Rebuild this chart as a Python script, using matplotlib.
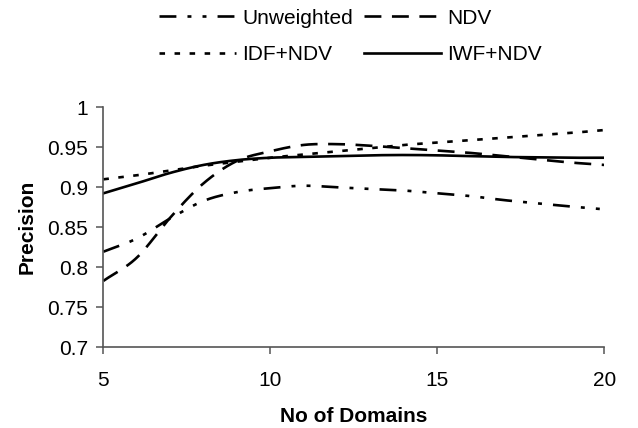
import numpy as np
import matplotlib
matplotlib.use('Agg')
import matplotlib.pyplot as plt

plt.rcParams['font.family'] = ['Liberation Sans', 'DejaVu Sans']

# No of Domains
domains = [5, 6, 7, 8, 9, 10, 11, 12, 13, 14, 15, 16, 17, 18, 19, 20]

unweighted = [0.8195, 0.836, 0.861, 0.883, 0.894, 0.899, 0.902, 0.900, 0.898, 0.896,
              0.8925, 0.889, 0.884, 0.880, 0.876, 0.8725]
ndv = [0.783, 0.812, 0.862, 0.905, 0.933, 0.945, 0.953, 0.954, 0.952, 0.949,
       0.946, 0.943, 0.939, 0.935, 0.931, 0.928]
idf_ndv = [0.910, 0.915, 0.921, 0.927, 0.932, 0.937, 0.941, 0.945, 0.949, 0.953,
           0.956, 0.959, 0.962, 0.965, 0.968, 0.9716]
iwf_ndv = [0.8925, 0.905, 0.918, 0.928, 0.934, 0.937, 0.938, 0.939, 0.940, 0.9404,
           0.940, 0.939, 0.938, 0.9375, 0.937, 0.937]


def smooth(x, y, n=20):
    # catmull-rom, like excel's smoothed line
    x = np.asarray(x, float)
    y = np.asarray(y, float)
    px = np.concatenate([[2 * x[0] - x[1]], x, [2 * x[-1] - x[-2]]])
    py = np.concatenate([[2 * y[0] - y[1]], y, [2 * y[-1] - y[-2]]])
    xs, ys = [], []
    t = np.linspace(0, 1, n, endpoint=False)
    for i in range(1, len(px) - 2):
        for p, out in ((px, xs), (py, ys)):
            p0, p1, p2, p3 = p[i - 1], p[i], p[i + 1], p[i + 2]
            out.extend(0.5 * (2 * p1 + (-p0 + p2) * t + (2 * p0 - 5 * p1 + 4 * p2 - p3) * t ** 2
                              + (-p0 + 3 * p1 - 3 * p2 + p3) * t ** 3))
    xs.append(x[-1])
    ys.append(y[-1])
    return xs, ys


fig = plt.figure(figsize=(6.38, 4.28), dpi=100)
ax = fig.add_axes([0.162, 0.1886, 0.785, 0.5606])

lw = 1.9
l1, = ax.plot(*smooth(domains, unweighted), color='black', lw=lw, dashes=(6.4, 4.2, 1.5, 4.2, 1.5, 4.2), label='Unweighted')
l2, = ax.plot(*smooth(domains, ndv), color='black', lw=lw, dashes=(6.4, 4), label='NDV')
l3, = ax.plot(*smooth(domains, idf_ndv), color='black', lw=lw, dashes=(2.1, 3.6), label='IDF+NDV')
l4, = ax.plot(*smooth(domains, iwf_ndv), color='black', lw=lw, label='IWF+NDV')

ax.set_xlim(5, 20)
ax.set_ylim(0.7, 1.0)
ax.set_xticks([5, 10, 15, 20])
ax.set_yticks([0.7, 0.75, 0.8, 0.85, 0.9, 0.95, 1.0])
ax.set_yticklabels(['0.7', '0.75', '0.8', '0.85', '0.9', '0.95', '1'])
ax.spines['top'].set_visible(False)
ax.spines['right'].set_visible(False)
for s in ('left', 'bottom'):
    ax.spines[s].set_color('#555555')
    ax.spines[s].set_linewidth(1.2)
ax.tick_params(direction='out', length=5, width=1.1, color='#555555', labelsize=15)
ax.tick_params(axis='x', pad=12)
ax.tick_params(axis='y', pad=6)

ax.set_xlabel('No of Domains', fontsize=15, fontweight='bold', labelpad=12)
ax.set_ylabel('Precision', fontsize=15, fontweight='bold', labelpad=8)

# row-major order: Unweighted, NDV / IDF+NDV, IWF+NDV
fig.legend([l1, l3, l2, l4], ['Unweighted', 'IDF+NDV', 'NDV', 'IWF+NDV'],
           loc='center', bbox_to_anchor=(0.549, 0.915), ncol=2, frameon=False,
           fontsize=15, handlelength=3.7, handletextpad=0.3, columnspacing=0.5,
           labelspacing=0.85)

fig.savefig('out.png', dpi=100)
